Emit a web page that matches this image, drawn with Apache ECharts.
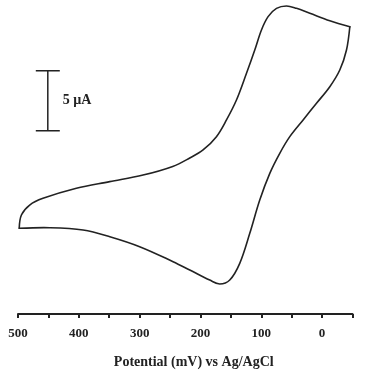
<!DOCTYPE html>
<html>
<head>
<meta charset="utf-8">
<script src="https://cdn.jsdelivr.net/npm/echarts@6/dist/echarts.min.js"></script>
<style>
html,body{margin:0;padding:0;background:#fff;}
#chart{width:366px;height:377px;}
</style>
</head>
<body>
<div id="chart"></div>
<script>
// Cyclic voltammogram: potential (mV vs Ag/AgCl) and current (µA), in scan order
var potential = [498, 448, 393, 349, 300, 245, 217.6, 184.7, 168.3, 151.8, 135.4, 118.9, 102.5, 86, 69.6, 53.1, 31.2, 9.2, -12.7, -29.1, -40.1, -45.6,
                 -12.7, 20.2, 42.1, 58.6, 75, 88.8, 99.7, 110.7, 124.3, 140.8, 157.2, 173.7, 195.7, 217.6, 245.6, 294.4, 349.2, 404, 458.9, 480.8, 494.4, 498];
var current = [0.14, 0.19, 0, -0.56, -1.39, -2.64, -3.33, -4.17, -4.5, -4.17, -2.78, -0.28, 2.5, 4.72, 6.39, 7.78, 9.17, 10.56, 11.94, 13.33, 15.0, 16.94,
               17.44, 18.06, 18.47, 18.67, 18.47, 17.78, 16.67, 15.0, 13.06, 10.83, 9.17, 7.78, 6.67, 6.0, 5.3, 4.58, 4.03, 3.48, 2.64, 2.08, 1.25, 0.14];
// Scale bar: 5 µA
var scaleBarPotential = [451];
var scaleBarCurrent = [[8.27, 13.27]];
var scaleBarLabel = ['5 \u00b5A'];

var xMin = -50, xMax = 500, xStep = 50;
var yMin = -7, yMax = 19;

var cvData = potential.map(function (p, i) { return [p, current[i]]; });
var barData = scaleBarPotential.map(function (p, i) { return [p, scaleBarCurrent[i][0], scaleBarCurrent[i][1]]; });
// switching point of the scan (most negative potential)
var switchIdx = potential.indexOf(Math.min.apply(null, potential));

var chart = echarts.init(document.getElementById('chart'), null, {renderer: 'canvas'});
var serif = '"Liberation Serif", "DejaVu Serif", serif';
chart.setOption({
  animation: false,
  backgroundColor: '#ffffff',
  grid: {left: 18, right: 13.5, top: 2, bottom: 63, containLabel: false},
  xAxis: {
    type: 'value', inverse: true, min: xMin, max: xMax, interval: xStep,
    name: 'Potential (mV) vs Ag/AgCl', nameLocation: 'middle', nameGap: 41,
    nameTextStyle: {fontFamily: serif, fontWeight: 'bold', fontSize: 14, color: '#222', padding: [0, 0, 0, 17]},
    axisLine: {show: true, onZero: false, lineStyle: {color: '#222', width: 2}},
    axisTick: {show: true, inside: false, length: 4, lineStyle: {color: '#222', width: 2}},
    axisLabel: {fontFamily: serif, fontWeight: 'bold', fontSize: 13, color: '#222', margin: 13,
      formatter: function (v) { return v % 100 === 0 ? String(v) : ''; }},
    splitLine: {show: false}
  },
  yAxis: {
    type: 'value', min: yMin, max: yMax, show: false, splitLine: {show: false}
  },
  series: [
    {
      // voltammogram: forward and reverse scans drawn as smooth polylines through the data points
      type: 'custom', data: cvData, clip: false,
      renderItem: function (params, api) {
        if (params.dataIndex !== 0) { return null; }
        var pts = cvData.map(function (d) { return api.coord(d); });
        var st = {stroke: '#222', lineWidth: 1.6, fill: null, lineJoin: 'round', lineCap: 'round'};
        return {
          type: 'group',
          children: [
            {type: 'polyline', shape: {points: pts.slice(0, switchIdx + 1), smooth: 0.35}, style: st},
            {type: 'polyline', shape: {points: pts.slice(switchIdx), smooth: 0.35}, style: st}
          ]
        };
      }
    },
    {
      type: 'custom', data: barData, clip: false,
      renderItem: function (params, api) {
        var top = api.coord([api.value(0), api.value(2)]);
        var bot = api.coord([api.value(0), api.value(1)]);
        var half = 12;
        var st = {stroke: '#222', lineWidth: 1.5};
        return {
          type: 'group',
          children: [
            {type: 'line', shape: {x1: top[0], y1: top[1], x2: bot[0], y2: bot[1]}, style: st},
            {type: 'line', shape: {x1: top[0] - half, y1: top[1], x2: top[0] + half, y2: top[1]}, style: st},
            {type: 'line', shape: {x1: bot[0] - half, y1: bot[1], x2: bot[0] + half, y2: bot[1]}, style: st},
            {type: 'text', x: top[0] + 15, y: (top[1] + bot[1]) / 2,
              style: {text: scaleBarLabel[params.dataIndex], fontFamily: serif, fontWeight: 'bold', fontSize: 14,
                fill: '#222', verticalAlign: 'middle', align: 'left'}}
          ]
        };
      }
    }
  ]
});
</script>
</body>
</html>
